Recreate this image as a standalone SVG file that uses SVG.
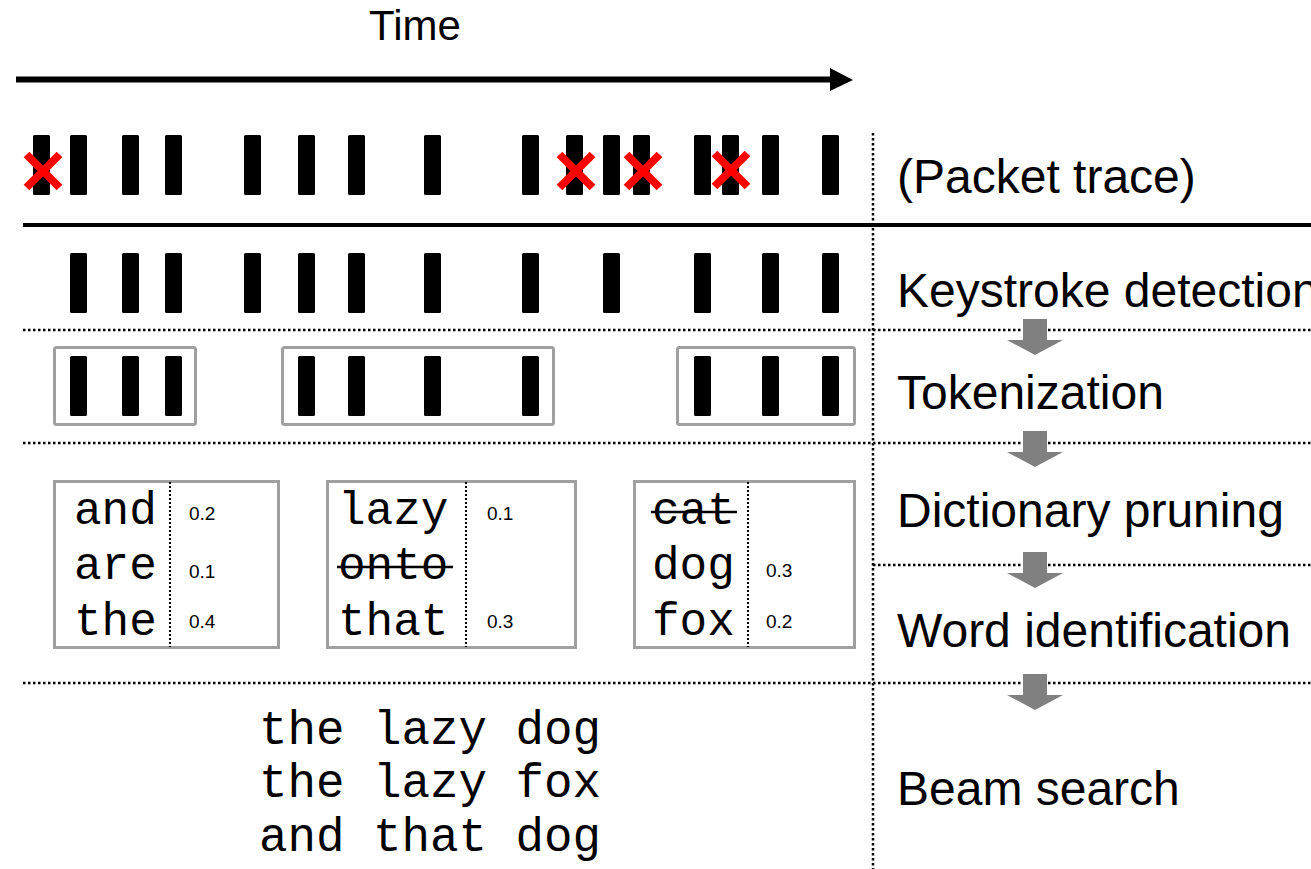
<svg xmlns="http://www.w3.org/2000/svg" width="1311" height="869" viewBox="0 0 1311 869">
  <defs>
    <style>
      .bar { fill: #000; }
      .cross { stroke: #ff0000; stroke-width: 8; fill: none; }
      .dot { stroke: #000; stroke-width: 2.5; stroke-dasharray: 2.5 2.5; fill: none; }
      .dotv { stroke: #000; stroke-width: 2; stroke-dasharray: 2 2; fill: none; }
      .tok { fill: none; stroke: #a0a0a0; stroke-width: 3; }
      .label { font-family: "Liberation Sans", Arial, sans-serif; font-size: 48px; fill: #000; }
      .word { font-family: "Liberation Mono", "Courier New", monospace; font-size: 46px; fill: #000; }
      .beam { font-family: "Liberation Mono", "Courier New", monospace; font-size: 47.5px; fill: #000; }
      .prob { font-family: "Liberation Sans", Arial, sans-serif; font-size: 19px; fill: #000; }
      .strike { stroke: #000; stroke-width: 2.5; }
      .step { fill: #808080; stroke: #fff; stroke-width: 2; paint-order: stroke; }
    </style>
    <rect id="k" class="bar" width="17" height="60" rx="1.5"/>
    <path id="x" class="cross" d="M-16.5,-16.5 L16.5,16.5 M-16.5,16.5 L16.5,-16.5"/>
    <path id="down" class="step" d="M-12,0 H12 V21 H28 L0,36 L-28,21 H-12 Z"/>
  </defs>

  <rect width="1311" height="869" fill="#fff"/>

  <!-- time axis -->
  <g id="time-axis">
    <text class="label" x="415" y="40" text-anchor="middle" style="font-size:42px">Time</text>
    <line x1="16" y1="79.5" x2="832" y2="79.5" stroke="#000" stroke-width="6"/>
    <polygon points="830,68 853,80 830,91" fill="#000"/>
  </g>

  <!-- separators and stage arrows -->
  <g id="connectors">
    <line x1="23" y1="225" x2="1311" y2="225" stroke="#000" stroke-width="4"/>
    <line class="dot" x1="873" y1="133" x2="873" y2="869"/>
    <line class="dot" x1="23" y1="330" x2="1311" y2="330"/>
    <line class="dot" x1="23" y1="443" x2="1311" y2="443"/>
    <line class="dot" x1="873" y1="565" x2="1311" y2="565"/>
    <line class="dot" x1="23" y1="683" x2="1311" y2="683"/>
    <use href="#down" x="1035" y="319"/>
    <use href="#down" x="1035" y="431"/>
    <use href="#down" x="1035" y="552"/>
    <use href="#down" x="1035" y="674"/>
  </g>

  <!-- raw packet trace -->
  <g id="packet-trace">
    <use href="#k" x="33" y="135"/>
    <use href="#k" x="70" y="135"/>
    <use href="#k" x="122" y="135"/>
    <use href="#k" x="165" y="135"/>
    <use href="#k" x="244" y="135"/>
    <use href="#k" x="298" y="135"/>
    <use href="#k" x="348" y="135"/>
    <use href="#k" x="424" y="135"/>
    <use href="#k" x="522" y="135"/>
    <use href="#k" x="566" y="135"/>
    <use href="#k" x="603" y="135"/>
    <use href="#k" x="633" y="135"/>
    <use href="#k" x="694" y="135"/>
    <use href="#k" x="722" y="135"/>
    <use href="#k" x="762" y="135"/>
    <use href="#k" x="822" y="135"/>
    <use href="#x" x="43" y="171"/>
    <use href="#x" x="576" y="171"/>
    <use href="#x" x="643" y="171"/>
    <use href="#x" x="731" y="170"/>
    <text class="label" x="897" y="193">(Packet trace)</text>
  </g>

  <!-- keystroke detection -->
  <g id="keystroke-detection">
    <use href="#k" x="70" y="253"/>
    <use href="#k" x="122" y="253"/>
    <use href="#k" x="165" y="253"/>
    <use href="#k" x="244" y="253"/>
    <use href="#k" x="298" y="253"/>
    <use href="#k" x="348" y="253"/>
    <use href="#k" x="424" y="253"/>
    <use href="#k" x="522" y="253"/>
    <use href="#k" x="603" y="253"/>
    <use href="#k" x="694" y="253"/>
    <use href="#k" x="762" y="253"/>
    <use href="#k" x="822" y="253"/>
    <text class="label" x="897" y="307">Keystroke detection</text>
  </g>

  <!-- tokenization -->
  <g id="tokenization">
    <rect class="tok" x="54.5" y="347.5" width="141" height="77" rx="2"/>
    <rect class="tok" x="282.5" y="347.5" width="271" height="77" rx="2"/>
    <rect class="tok" x="677.5" y="347.5" width="177" height="77" rx="2"/>
    <use href="#k" x="70" y="356"/>
    <use href="#k" x="122" y="356"/>
    <use href="#k" x="165" y="356"/>
    <use href="#k" x="298" y="356"/>
    <use href="#k" x="348" y="356"/>
    <use href="#k" x="424" y="356"/>
    <use href="#k" x="522" y="356"/>
    <use href="#k" x="694" y="356"/>
    <use href="#k" x="762" y="356"/>
    <use href="#k" x="822" y="356"/>
    <text class="label" x="897" y="409">Tokenization</text>
  </g>

  <!-- candidate words per token -->
  <g id="word-box-1">
    <rect class="tok" x="54.5" y="481.5" width="224" height="166"/>
    <line class="dotv" x1="170" y1="482" x2="170" y2="647"/>
    <text class="word" x="74" y="524">and</text>
    <text class="word" x="74" y="579">are</text>
    <text class="word" x="74" y="635">the</text>
    <text class="prob" x="189" y="520">0.2</text>
    <text class="prob" x="189" y="578">0.1</text>
    <text class="prob" x="189" y="628">0.4</text>
  </g>
  <g id="word-box-2">
    <rect class="tok" x="327.5" y="481.5" width="248" height="166"/>
    <line class="dotv" x1="466" y1="482" x2="466" y2="647"/>
    <text class="word" x="338" y="524">lazy</text>
    <text class="word" x="338" y="579">onto</text>
    <line class="strike" x1="337" y1="567" x2="453" y2="567"/>
    <text class="word" x="338" y="635">that</text>
    <text class="prob" x="487" y="520">0.1</text>
    <text class="prob" x="487" y="628">0.3</text>
  </g>
  <g id="word-box-3">
    <rect class="tok" x="634.5" y="481.5" width="220" height="166"/>
    <line class="dotv" x1="748" y1="482" x2="748" y2="647"/>
    <text class="word" x="652" y="524">cat</text>
    <line class="strike" x1="651" y1="512" x2="737" y2="512"/>
    <text class="word" x="652" y="579">dog</text>
    <text class="word" x="652" y="635">fox</text>
    <text class="prob" x="766" y="577">0.3</text>
    <text class="prob" x="766" y="628">0.2</text>
  </g>
  <g id="stage-labels">
    <text class="label" x="897" y="527">Dictionary pruning</text>
    <text class="label" x="897" y="647">Word identification</text>
  </g>

  <!-- beam search output -->
  <g id="beam-search">
    <text class="beam" x="259" y="744">the lazy dog</text>
    <text class="beam" x="259" y="797">the lazy fox</text>
    <text class="beam" x="259" y="851">and that dog</text>
    <text class="label" x="897" y="805">Beam search</text>
  </g>
</svg>
